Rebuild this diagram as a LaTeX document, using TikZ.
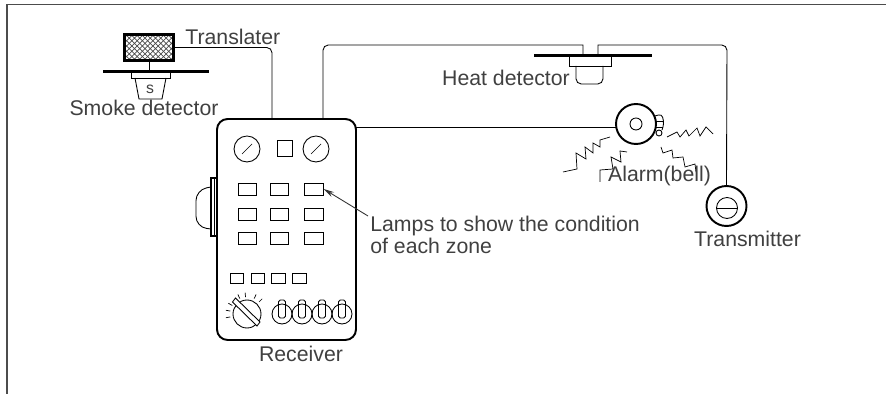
\documentclass[tikz,border=0pt]{standalone}
\usepackage{fontspec}
\setmainfont{Liberation Sans}
\usetikzlibrary{arrows.meta,patterns}
\tikzset{
  wire/.style={line width=0.5pt},
  plate/.style={draw,fill=black,inner sep=0pt,minimum height=0.04cm},
  lamp/.style={draw,line width=0.55pt,inner sep=0pt,minimum width=0.37cm,minimum height=0.24cm},
  smalllamp/.style={draw,line width=0.5pt,inner sep=0pt,minimum width=0.27cm,minimum height=0.2cm},
  gauge/.style={draw,circle,line width=0.5pt,inner sep=0pt,minimum size=0.52cm},
  switch/.style={draw,circle,line width=0.5pt,inner sep=0pt,minimum size=0.4cm},
  label/.style={inner sep=0pt,text=black!75,font=\fontsize{12.1}{14}\selectfont}
}
\begin{document}
\begin{tikzpicture}[x=0.02cm,y=-0.02cm]
\useasboundingbox (0,0) rectangle (886,394);
\draw [line width=0.8pt,black!70] (7,394) -- (7,4.5) -- (886,4.5);
% smoke detector
\node [draw,line width=1.2pt,pattern=crosshatch,pattern color=black!70,inner sep=0pt,minimum width=0.98cm,minimum height=0.52cm] (translater) at (149,47.5) {};
\node [plate,minimum width=2.1cm] (smokeplate) at (155.5,71) {};
\node [draw,line width=0.5pt,inner sep=0pt,minimum width=0.78cm,minimum height=0.14cm] (smokehead) at (150.5,75) {};
\draw [wire] (translater.south) -- (translater.south |- smokeplate.north);
\draw [line width=0.5pt] (135,78) -- (139,99) -- (162,99) -- (166,78);
\node [label,font=\small] (s) at (150,89) {s};
\node [label,anchor=west] (translatertext) at (185,37) {Translater};
\node [label] (smoketext) at (144,108) {Smoke detector};
% receiver
\node [draw,line width=1.1pt,rounded corners=6pt,inner sep=0pt,minimum width=2.78cm,minimum height=4.42cm] (receiver) at (286.5,229.5) {};
\coordinate (rxa) at (272,119);
\coordinate (rxb) at (323,119);
\coordinate (rxc) at (356,127);
\draw [line width=0.8pt] (217,178) -- (211,178) -- (211,236) -- (217,236);
\draw [line width=0.5pt] (214.5,178) -- (214.5,236);
\draw [line width=0.5pt,rounded corners=6pt] (211,187) -- (196,190) -- (196,227) -- (211,229);
\foreach \x/\n in {247/a,316/b}{
    \node [gauge] (gauge\n) at (\x,149) {};
    \draw [line width=0.4pt] (\x-5,154) -- (\x+5,144);
}
\node [draw,line width=0.5pt,inner sep=0pt,minimum width=0.3cm,minimum height=0.33cm] (square) at (284.5,148.5) {};
\foreach \x/\n in {247.5/1,279.5/2,314/3}{
    \foreach \y/\m in {189/1,214/2,238.5/3}{
        \node [lamp] (lamp\m\n) at (\x,\y) {};
    }
}
\foreach \x in {237,258,278.5,299.5}{
    \node [smalllamp] at (\x,278) {};
}
% dial and switches
\node [draw,circle,line width=0.5pt,inner sep=0pt,minimum size=0.56cm] (dial) at (247,314) {};
\draw [fill=white,line width=0.5pt] (232.5,302) -- (235.5,298) -- (260,322) -- (257,326) -- cycle;
\foreach \a in {95,115,150,170,190,65,45}{
    \draw [line width=0.4pt] (247,314) ++(-\a:17) -- ++(-\a:4.5);
}
\foreach \x/\n in {282/1,302/2,322/3,342/4}{
    \node [switch] (switch\n) at (\x,314) {};
}
\foreach \x/\n in {282/1,302/2,322/3,342/4}{
    \draw [line width=0.5pt,rounded corners=1pt] (\x-3.5,318) -- (\x-3.5,300) -- (\x+3.5,300) -- (\x+3.5,318) -- cycle;
}
\node [label] (receivertext) at (301,354) {Receiver};
\node [label,anchor=west] (lamptext) at (370,226) {Lamps to show the condition};
\node [label,anchor=west] (lamptextb) at (370,246) {of each zone};
\coordinate (lamptip) at (368,216);
\draw [-{Stealth[length=6pt,width=3pt]},line width=0.5pt,black!80] (lamptip) -- (lamp13.east);
% heat detector
\node [plate,minimum width=2.34cm] (heatplate) at (592.5,55) {};
\node [draw,line width=0.5pt,inner sep=0pt,minimum width=0.84cm,minimum height=0.22cm] (heathead) at (590,61) {};
\draw [line width=0.5pt,rounded corners=3pt] (576,66) -- (576,84) -- (603,84) -- (603,66);
\node [label] (heattext) at (506,78) {Heat detector};
% alarm
\node [draw,circle,line width=1.1pt,inner sep=0pt,minimum size=0.8cm] (bell) at (636,124) {};
\node [draw,circle,line width=0.5pt,inner sep=0pt,minimum size=0.24cm] (bellhub) at (636,124) {};
\node [draw,circle,line width=0.5pt,inner sep=0pt,minimum size=0.12cm] (clapper) at (659,133) {};
\draw [line width=0.5pt,rounded corners=2pt] (655,116) -- (662,114) -- (664,124) -- (662,130);
\draw [line width=0.5pt] (655.5,121) -- (664,121);
\draw [line width=0.5pt] (655,127) -- (663,127);
\draw [line width=0.4pt] (667,137) -- (677,132) -- (680,137) -- (686,130) -- (689,136) -- (697,128) -- (700,136) -- (706,127) -- (713,134);
\draw [line width=0.4pt] (563,172) -- (577,169) -- (576,153) -- (586,159) -- (585,147) -- (593,153) -- (593,143) -- (600,147) -- (600,140) -- (610,137);
\draw [line width=0.4pt] (600,182) -- (600,170) -- (613,169) -- (611,157) -- (621,162) -- (620,151) -- (627,152);
\draw [line width=0.4pt] (661,147) -- (663,153) -- (672,150) -- (673,158) -- (683,157) -- (685,167) -- (695,164) -- (696,172);
\node [label] (alarmtext) at (659.5,176) {Alarm(bell)};
% transmitter
\node [draw,circle,line width=1.1pt,inner sep=0pt,minimum size=0.8cm] (transmitter) at (726.5,206) {};
\node [draw,circle,line width=0.5pt,inner sep=0pt,minimum size=0.42cm] (transmitterin) at (727,208) {};
\draw [line width=0.5pt] (transmitterin.west) -- (transmitterin.east);
\node [label] (transmittertext) at (747.5,239) {Transmitter};
% wires
\coordinate (heata) at (583,55);
\coordinate (heatb) at (598,55);
\coordinate (bellin) at (616,127);
\draw [wire,rounded corners=3pt] (translater.east) -| (rxa);
\draw [wire] (rxb) [rounded corners=3pt] -- (323,45) [sharp corners] -- (583,45) -- (heata);
\draw [wire] (heatb) -- (598,45) [rounded corners=3pt] -- (727,45) -- (transmitter.north);
\draw [wire] (rxc) -- (bellin);
\end{tikzpicture}
\end{document}
